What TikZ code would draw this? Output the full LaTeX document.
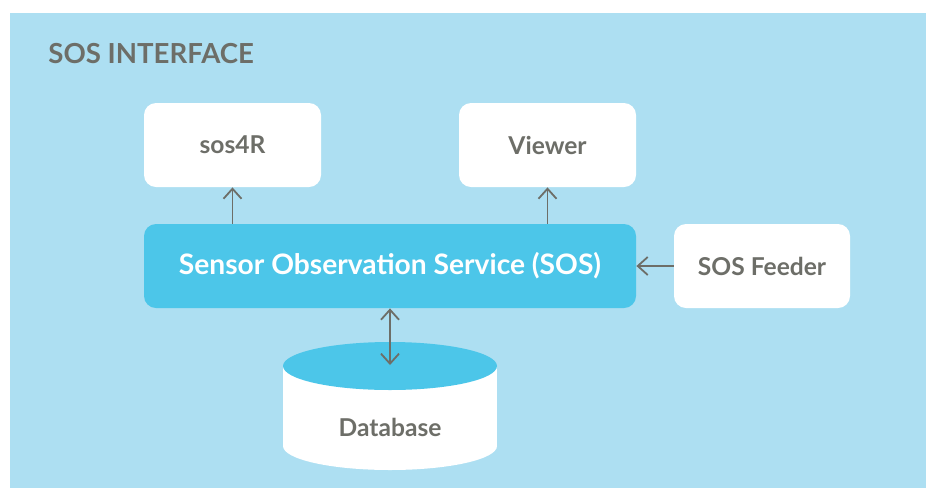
\documentclass[tikz,border=0pt]{standalone}
\usepackage{fontspec}
\setmainfont{Lato}
\usetikzlibrary{arrows.meta}

\definecolor{panelblue}{HTML}{ADDFF2}
\definecolor{sosblue}{HTML}{4CC6E9}
\definecolor{labelgray}{HTML}{6D6E68}

\begin{document}
\begin{tikzpicture}
    [
        x = 0.5pt, y = -0.5pt,
        box/.style = {fill = white, rounded corners = 6pt, minimum width = 88.5pt,
            minimum height = 42pt, text = labelgray, font = \fontsize{12.3}{14}\selectfont\bfseries},
        barb/.tip = {Straight Barb[length = 5pt, width = 9pt, line width = 0.9pt]},
        link/.style = {draw = labelgray, line width = 0.9pt, -{barb}}
    ]

        \useasboundingbox (0,0) rectangle (926,488);
        \fill[panelblue] (10,13) rectangle (926,488);

        \node[anchor = base west, inner sep = 0pt, text = labelgray, font = \fontsize{13.8}{16}\selectfont\bfseries]
            (title) at (48,63) {SOS INTERFACE};

        \node[box] (sosr) at (232.5,145) {sos4R};
        \node[box] (viewer) at (547.5,145) {Viewer};
        \node[box, minimum width = 88pt] (feeder) at (762,266) {SOS Feeder};
        \node[box, fill = sosblue, minimum width = 246pt, text = white,
            font = \fontsize{14.1}{16}\selectfont\bfseries] (sos) at (390,266)
            {Sensor Observation Service (SOS)};

        \fill[white] (283,366) rectangle (497,446);
        \fill[white] (390,446) ellipse [x radius = 107, y radius = 24];
        \fill[sosblue] (390,366) ellipse [x radius = 107, y radius = 24];
        \coordinate (dbtop) at (390,365);
        \node[text = labelgray, font = \fontsize{12.3}{14}\selectfont\bfseries] (db) at (390,427) {Database};

        \draw[link] (sos.north -| sosr) -- (sosr.south);
        \draw[link] (sos.north -| viewer) -- (viewer.south);
        \draw[link] (feeder.west) -- (sos.east);
        \draw[link, {barb}-{barb}] (sos.south) -- (dbtop);
    \end{tikzpicture}
\end{document}
